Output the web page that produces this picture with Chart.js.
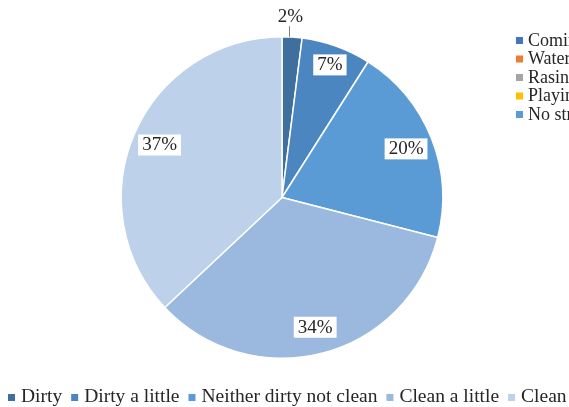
<!DOCTYPE html>
<html>
<head>
<meta charset="utf-8">
<script src="https://cdn.jsdelivr.net/npm/chart.js"></script>
<style>
  html, body { margin: 0; padding: 0; background: #ffffff; }
  #wrap { width: 569px; height: 407px; position: relative; }
</style>
</head>
<body>
<div id="wrap"><canvas id="pieChart" width="569" height="407"></canvas></div>
<script>
// Anteile in Prozent
const categories = ["Dirty", "Dirty a little", "Neither dirty not clean", "Clean a little", "Clean"];
const shares = [2, 7, 20, 34, 37];
const sliceColors = ["#3f6f9d", "#4b86c0", "#5b9bd5", "#9bb9df", "#bdd1ea"];

// zweite Legende (rechts oben)
const sideLabels = ["Coming", "Watering", "Rasing", "Playing", "No stress"];
const sideColors = ["#4472c4", "#ed7d31", "#a5a5a5", "#ffc000", "#5b9bd5"];

// Abstand der Beschriftung vom Mittelpunkt (Anteil am Radius)
const labelRadius = [1.13, 0.88, 0.83, 0.83, 0.83];

const FONT = '"Liberation Serif", "Times New Roman", serif';

const labelPlugin = {
    id: "pieLabels",
    afterDraw(chart) {
        const ctx = chart.ctx;
        const meta = chart.getDatasetMeta(0);
        ctx.save();
        ctx.font = "19px " + FONT;
        ctx.textAlign = "center";
        ctx.textBaseline = "middle";

        meta.data.forEach((arc, i) => {
            const mid = (arc.startAngle + arc.endAngle) / 2;
            const r = arc.outerRadius * labelRadius[i];
            const x = arc.x + Math.cos(mid) * r;
            const y = arc.y + Math.sin(mid) * r;
            const text = shares[i] + "%";
            const w = ctx.measureText(text).width;

            if (labelRadius[i] > 1) {
                // Hinweislinie nach außen
                ctx.strokeStyle = "#7f7f7f";
                ctx.lineWidth = 1;
                ctx.beginPath();
                ctx.moveTo(Math.round(x) - 3.5, y + 10);
                ctx.lineTo(Math.round(x) - 3.5, arc.y - arc.outerRadius);
                ctx.stroke();
                ctx.fillStyle = "#262626";
                ctx.fillText(text, x - 3, y + 1);
            } else {
                ctx.fillStyle = "#ffffff";
                ctx.fillRect(x - w / 2 - 4, y - 10, w + 8, 21);
                ctx.fillStyle = "#262626";
                ctx.fillText(text, x, y + 1);
            }
        });

        // Legende unten
        ctx.font = "19.5px " + FONT;
        ctx.textAlign = "left";
        let x = 8;
        categories.forEach((name, i) => {
            ctx.fillStyle = sliceColors[i];
            ctx.fillRect(x, 394, 7, 7);
            ctx.fillStyle = "#262626";
            ctx.fillText(name, x + 13, 397);
            x += 13 + ctx.measureText(name).width + 9;
        });

        // Legende rechts
        ctx.font = "18px " + FONT;
        sideLabels.forEach((name, i) => {
            const y = 40 + i * 18.5;
            ctx.fillStyle = sideColors[i];
            ctx.fillRect(516, y - 3, 7, 7);
            ctx.fillStyle = "#262626";
            ctx.fillText(name, 528, y + 1);
        });
        ctx.restore();
    }
};

new Chart(document.getElementById("pieChart"), {
    type: "pie",
    data: {
        labels: categories,
        datasets: [{
            data: shares,
            backgroundColor: sliceColors,
            borderColor: "#ffffff",
            borderWidth: 1.5
        }]
    },
    options: {
        responsive: false,
        animation: false,
        layout: {
            padding: { left: 120, right: 125, top: 36, bottom: 48 }
        },
        plugins: {
            legend: { display: false },
            tooltip: { enabled: false }
        }
    },
    plugins: [labelPlugin]
});
</script>
</body>
</html>
